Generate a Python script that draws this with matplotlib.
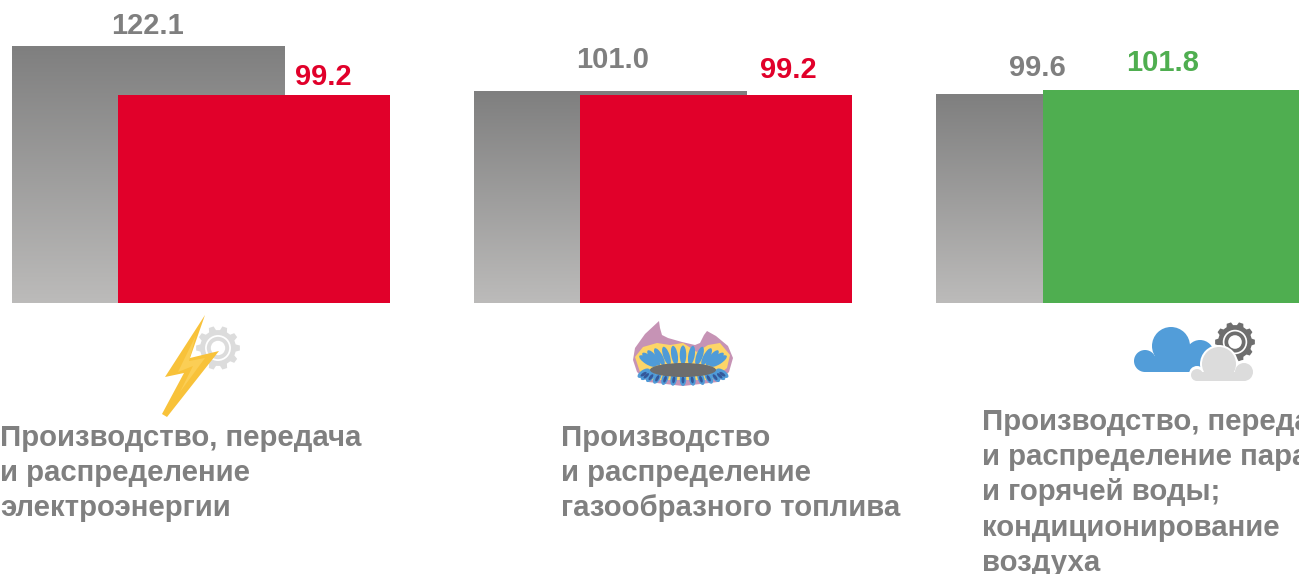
import numpy as np
import matplotlib
matplotlib.use("Agg")
import matplotlib.pyplot as plt
from matplotlib.patches import Polygon, Circle, Ellipse, Rectangle

plt.rcParams['font.family'] = ['Liberation Sans', 'DejaVu Sans']

# data
base_values = [122.1, 101.0, 99.6]
current_values = [99.2, 99.2, 101.8]
current_colors = ["#e1002a", "#e1002a", "#4fae50"]
base_labels = ["122.1", "101.0", "99.6"]
current_labels = ["99.2", "99.2", "101.8"]
categories = [
    ["Производство, передача", "и распределение", "электроэнергии"],
    ["Производство", "и распределение", "газообразного топлива"],
    ["Производство, передача", "и распределение пара", "и горячей воды;", "кондиционирование", "воздуха"],
]

# pixel layout
W, H = 1299, 574
base_y = 303
px_per_unit = 2.097
base_left = [12, 474, 936]
current_left = [118, 580, 1043]
bar_w = 272.5
text_x = [0, 561, 982]
text_first_baseline = [445.5, 445.5, 430]
line_step = 35.2
base_label_x = [148, 613, 1037]
current_label_x = [323, 788, 1163]
base_label_y = [26, 60, 68]
current_label_y = [77, 70, 63]

fig = plt.figure(figsize=(W / 100, H / 100), dpi=100)

# bars, y axis in index values
ax = fig.add_axes([0, 1 - base_y / H, 1, base_y / H])
ax.axis("off")

gradient = np.linspace(0, 1, 256).reshape(-1, 1)
gray_cmap = matplotlib.colors.LinearSegmentedColormap.from_list("g", ["#7f7f7f", "#bcbbba"])
for i in range(3):
    ax.imshow(gradient, cmap=gray_cmap, aspect="auto", zorder=1,
              extent=(base_left[i], base_left[i] + bar_w, 0, base_values[i]))
    ax.bar(current_left[i], current_values[i], width=bar_w, align="edge",
           color=current_colors[i], zorder=2)
ax.set_xlim(0, W)
ax.set_ylim(0, base_y / px_per_unit)

# overlay in pixel coordinates for texts and icons
ov = fig.add_axes([0, 0, 1, 1])
ov.set_xlim(0, W)
ov.set_ylim(H, 0)
ov.axis("off")
ov.patch.set_alpha(0)

for i in range(3):
    ov.text(base_label_x[i], base_label_y[i], base_labels[i], color="#7f7f7f", fontsize=21,
            fontweight="bold", ha="center", va="center")
    ov.text(current_label_x[i], current_label_y[i], current_labels[i], color=current_colors[i], fontsize=21,
            fontweight="bold", ha="center", va="center")
    for j, line in enumerate(categories[i]):
        ov.text(text_x[i], text_first_baseline[i] + j * line_step, line, color="#808080", fontsize=21.2,
                fontweight="bold", ha="left", va="baseline")


def gear(cx, cy, r_out, r_in, color, teeth=10):
    pts = []
    for k in range(teeth):
        a = 2 * np.pi * k / teeth
        d = 2 * np.pi / teeth
        for off, r in [(-0.32, r_in), (-0.18, r_out), (0.18, r_out), (0.32, r_in)]:
            pts.append((cx + r * np.cos(a + off * d), cy + r * np.sin(a + off * d)))
    ov.add_patch(Polygon(pts, closed=True, fc=color, ec="none", zorder=3))
    ov.add_patch(Circle((cx, cy), r_in * 0.72, fc="white", ec="none", zorder=3))
    ov.add_patch(Circle((cx, cy), r_in * 0.62, fc=color, ec="none", zorder=3))
    ov.add_patch(Circle((cx, cy), r_in * 0.40, fc="white", ec="none", zorder=3))


# lightning + gear
gear(218, 348, 22, 18, "#dcdcdc")
bolt = [(205, 315), (165, 377), (184, 373), (162, 414), (167, 417), (219, 351), (190, 358)]
ov.add_patch(Polygon(bolt, closed=True, fc="#f8c23a", ec="none", zorder=4))
ov.add_patch(Polygon([(196, 335), (178, 372), (193, 366), (180, 392), (205, 358), (189, 361)],
                     closed=True, fc="#fbce55", ec="none", zorder=5))

# gas burner
flame = [(659, 321), (645, 334), (635, 348), (633, 360), (637, 372), (648, 382), (683, 386),
         (718, 382), (729, 372), (733, 358), (728, 346), (716, 336), (707, 331), (704, 335),
         (700, 343), (695, 345), (682, 342), (668, 338), (662, 335), (660, 328)]
ov.add_patch(Polygon(flame, closed=True, fc="#c693b5", ec="none", zorder=3))
inner = [(635, 357), (643, 347), (657, 343), (670, 345), (683, 343), (697, 352), (708, 345),
         (720, 343), (730, 355), (727, 368), (712, 380), (650, 380), (640, 372)]
ov.add_patch(Polygon(inner, closed=True, fc="#fdd567", ec="none", zorder=4))
for a in np.linspace(8, 172, 13):
    t = np.radians(a)
    x = 683 + 36 * np.cos(t)
    y = 362 - 7 * np.sin(t)
    ov.add_patch(Ellipse((x, y), 6.5, 19, angle=(90 - a) * 0.7, fc="#4f9bd8", ec="none", zorder=5))
for a in np.linspace(190, 350, 13):
    t = np.radians(a)
    x = 683 + 40 * np.cos(t)
    y = 372 - 7 * np.sin(t)
    ov.add_patch(Ellipse((x, y), 6.5, 14, angle=(a - 270) * -0.7, fc="#4f9bd8", ec="none", zorder=5))
    ov.add_patch(Ellipse((x, y + 1), 3, 7, angle=(a - 270) * -0.7, fc="#34589a", ec="none", zorder=6))
ov.add_patch(Ellipse((683, 370), 66, 14, fc="#6d6d6d", ec="none", zorder=7))

# cloud + gear
gear(1235, 342, 20, 17, "#6e6e6e")
blue = "#529dd9"
for c, r in [((1171, 346), 19), ((1145, 361), 11), ((1200, 354), 14)]:
    ov.add_patch(Circle(c, r, fc=blue, ec="none", zorder=4))
ov.add_patch(Rectangle((1145, 356), 62, 16, fc=blue, ec="none", zorder=4))
grey = "#dcdcdc"
for c, r in [((1219, 364), 19), ((1197, 374), 8), ((1244, 371), 11)]:
    ov.add_patch(Circle(c, r, fc="white", ec="none", zorder=5))
for c, r in [((1219, 364), 17), ((1197, 375), 6), ((1244, 372), 9)]:
    ov.add_patch(Circle(c, r, fc=grey, ec="none", zorder=6))
ov.add_patch(Rectangle((1197, 372), 48, 9, fc=grey, ec="none", zorder=6))

fig.savefig("out.png", dpi=100)
